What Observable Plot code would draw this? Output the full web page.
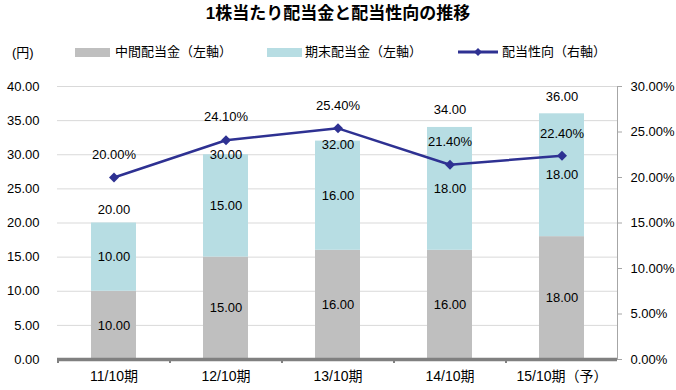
<!DOCTYPE html>
<html>
<head>
<meta charset="utf-8">
<script src="https://cdn.jsdelivr.net/npm/d3@7"></script>
<script src="https://cdn.jsdelivr.net/npm/@observablehq/plot@0.6"></script>
<style>
  html, body { margin: 0; padding: 0; background: #fff; }
  body { font-family: "Liberation Sans", "Noto Sans CJK JP", sans-serif; color: #000; }
  #wrap { width: 676px; }
  #header { position: relative; width: 676px; height: 66px; }
  #title { position: absolute; left: 0; width: 676px; top: 3px; text-align: center; font-size: 17px; font-weight: bold; line-height: 22px; }
  .lg { position: absolute; font-size: 13px; line-height: 16px; top: 44px; white-space: nowrap; }
  .sw { position: absolute; top: 48px; width: 35px; height: 9px; }
</style>
</head>
<body>
<div id="wrap">
  <div id="header"></div>
  <div id="chart"></div>
</div>
<script>
// ---- data ----
const categories = ["11/10期", "12/10期", "13/10期", "14/10期", "15/10期（予）"];
const interimDividend = [10, 15, 16, 16, 18];      // 中間配当金 (円)
const yearEndDividend = [10, 15, 16, 18, 18];      // 期末配当金 (円)
const payoutRatio = [20.0, 24.1, 25.4, 21.4, 22.4]; // 配当性向 (%)
const leftTicks = [0, 5, 10, 15, 20, 25, 30, 35, 40];
const rightTicks = [0, 5, 10, 15, 20, 25, 30];
const seriesNames = ["中間配当金（左軸）", "期末配当金（左軸）", "配当性向（右軸）"];
const titleText = "1株当たり配当金と配当性向の推移";
const unitText = "(円)";

// ---- styles / layout ----
const colors = { interim: "#bfbfbf", yearEnd: "#b7dde3", line: "#2e3192", grid: "#d9d9d9" };
const totalLabelDy = [-13, 0, 4, -18, -17];
const ratioLabelDy = [-23, -23, -23, -23, -22];
const leftMax = 40, rightMax = 30;
const toLeft = p => p * leftMax / rightMax;

// header
const header = document.getElementById("header");
header.innerHTML = `
  <div id="title">${titleText}</div>
  <div class="lg" style="left:12px;top:45px">${unitText}</div>
  <div class="sw" style="left:75px;background:${colors.interim}"></div>
  <div class="lg" style="left:115px">${seriesNames[0]}</div>
  <div class="sw" style="left:267px;background:${colors.yearEnd}"></div>
  <div class="lg" style="left:305px">${seriesNames[1]}</div>
  <svg style="position:absolute;left:456px;top:46px" width="44" height="12">
    <line x1="2" x2="42" y1="6" y2="6" stroke="${colors.line}" stroke-width="3"/>
    <path d="M22,2 L26,6 L22,10 L18,6 Z" fill="${colors.line}"/>
  </svg>
  <div class="lg" style="left:502px">${seriesNames[2]}</div>
`;

const rows = categories.map((c, i) => ({
  cat: c,
  interim: interimDividend[i],
  yearEnd: yearEndDividend[i],
  total: interimDividend[i] + yearEndDividend[i],
  ratio: payoutRatio[i]
}));
const stacked = [];
rows.forEach(r => {
  stacked.push({ cat: r.cat, type: seriesNames[0], value: r.interim });
  stacked.push({ cat: r.cat, type: seriesNames[1], value: r.yearEnd });
});

const fmt2 = d => d.toFixed(2);

const marks = [
  Plot.gridY(leftTicks, { stroke: colors.grid, strokeOpacity: 1, strokeWidth: 1 }),
  Plot.barY(stacked, {
    x: "cat", y: "value", fill: "type"
  }),
  Plot.ruleY([0], { stroke: "#808080", strokeWidth: 3.5 }),
  Plot.ruleX(categories, { y1: 0, y2: -0.6, dx: -56, stroke: "#808080", strokeWidth: 2 }),
  Plot.frame({ anchor: "right", stroke: "#a6a6a6" }),
  Plot.axisY({ ticks: leftTicks, tickSize: 0, tickPadding: 18, tickFormat: fmt2, fontSize: 13 }),
  Plot.axisY({
    anchor: "right", ticks: rightTicks.map(toLeft), tickSize: 4, tickPadding: 9,
    stroke: "#a6a6a6", fill: "#000", fontSize: 13,
    tickFormat: d => (d * rightMax / leftMax).toFixed(2) + "%"
  }),
  Plot.axisX({ tickSize: 0, tickPadding: 12, fontSize: 14, label: null }),
  // labels in bars
  Plot.text(rows, { x: "cat", y: d => d.interim / 2, text: d => fmt2(d.interim), fontSize: 13 }),
  Plot.text(rows, { x: "cat", y: d => d.interim + d.yearEnd / 2, text: d => fmt2(d.yearEnd), fontSize: 13 }),
  ...rows.map((r, i) => Plot.text([r], { x: "cat", y: "total", text: d => fmt2(d.total), dy: totalLabelDy[i], fontSize: 13 })),
  // payout ratio line
  Plot.line(rows, { x: "cat", y: d => toLeft(d.ratio), stroke: colors.line, strokeWidth: 2.5 }),
  Plot.dot(rows, { x: "cat", y: d => toLeft(d.ratio), symbol: "diamond2", r: 4.5, fill: colors.line, stroke: "none" }),
  ...rows.map((r, i) => Plot.text([r], { x: "cat", y: d => toLeft(d.ratio), text: d => d.ratio.toFixed(2) + "%", dy: ratioLabelDy[i], fontSize: 13 }))
];

const chart = Plot.plot({
  width: 676,
  height: 324,
  marginTop: 20,
  marginBottom: 31,
  marginLeft: 57,
  marginRight: 59,
  style: { fontFamily: '"Liberation Sans", "Noto Sans CJK JP", sans-serif', fontSize: "13px", color: "#000", background: "#fff", overflow: "visible" },
  x: { domain: categories, paddingInner: 0.6, paddingOuter: 0.3, label: null, axis: null },
  y: { domain: [0, leftMax], label: null, axis: null },
  color: { domain: seriesNames.slice(0, 2), range: [colors.interim, colors.yearEnd] },
  marks
});
document.getElementById("chart").appendChild(chart);
</script>
</body>
</html>
